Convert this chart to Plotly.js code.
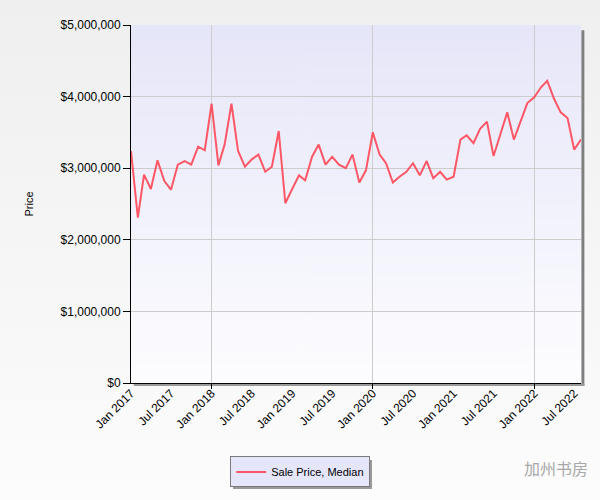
<!DOCTYPE html>
<html>
<head>
<meta charset="utf-8">
<script src="https://cdn.plot.ly/plotly-3.0.1.min.js"></script>
<style>
    html, body { margin: 0; padding: 0; }
    body { width: 600px; height: 500px; background: linear-gradient(#efefef, #fcfcfc); }
    #chartBox { width: 600px; height: 500px; }
</style>
</head>
<body>
<div id="chartBox"></div>
<script>
// 월별 중간 매매가 (2017-01 ~ 2022-08)
const startYear = 2017;
const median2017 = [3240000, 2310000, 2910000, 2710000, 3110000, 2820000, 2700000, 3050000, 3100000, 3050000, 3300000, 3250000];
const median2018 = [3900000, 3040000, 3330000, 3900000, 3240000, 3020000, 3120000, 3190000, 2950000, 3020000, 3520000, 2510000];
const median2019 = [2710000, 2900000, 2830000, 3160000, 3330000, 3050000, 3160000, 3050000, 3000000, 3190000, 2800000, 2970000];
const median2020 = [3500000, 3190000, 3070000, 2800000, 2880000, 2950000, 3070000, 2900000, 3100000, 2860000, 2950000, 2840000];
const median2021 = [2880000, 3400000, 3460000, 3350000, 3550000, 3650000, 3170000, 3470000, 3780000, 3400000, 3660000, 3910000];
const median2022 = [3990000, 4130000, 4220000, 3970000, 3780000, 3700000, 3260000, 3400000];

const tickDates = ['2017-01-01', '2017-07-01', '2018-01-01', '2018-07-01', '2019-01-01', '2019-07-01',
    '2020-01-01', '2020-07-01', '2021-01-01', '2021-07-01', '2022-01-01', '2022-07-01'];
const tickLabels = ['Jan 2017', 'Jul 2017', 'Jan 2018', 'Jul 2018', 'Jan 2019', 'Jul 2019',
    'Jan 2020', 'Jul 2020', 'Jan 2021', 'Jul 2021', 'Jan 2022', 'Jul 2022'];
const gridDates = ['2018-01-01', '2020-01-01', '2022-01-01'];
const priceTicks = [0, 1000000, 2000000, 3000000, 4000000, 5000000];

const yearly = [median2017, median2018, median2019, median2020, median2021, median2022];
const months = [];
const prices = [];
yearly.forEach((vals, i) => {
    vals.forEach((v, m) => {
        months.push((startYear + i) + '-' + String(m + 1).padStart(2, '0') + '-01');
        prices.push(v);
    });
});

// 플롯 영역 배경 그라데이션
function gradientImage() {
    const c = document.createElement('canvas');
    c.width = 4;
    c.height = 200;
    const ctx = c.getContext('2d');
    const g = ctx.createLinearGradient(0, 0, 0, 200);
    g.addColorStop(0, 'rgb(230,230,249)');
    g.addColorStop(1, 'rgb(253,253,255)');
    ctx.fillStyle = g;
    ctx.fillRect(0, 0, 4, 200);
    return c.toDataURL();
}

const font = 'Liberation Sans, Arial, sans-serif';
const xRange = [months[0], months[months.length - 1]];

var sale = {
    x: months,
    y: prices,
    type: 'scatter',
    mode: 'lines',
    line: { color: 'rgba(255,70,85,0.9)', width: 2 },
    name: 'Sale Price, Median',
};

// 라벨용 보조 축을 그리기 위한 빈 trace
var labelAxis = {
    x: xRange,
    y: [null, null],
    xaxis: 'x2',
    type: 'scatter',
    mode: 'lines',
    showlegend: false,
    hoverinfo: 'skip',
};

var layout = {
    width: 600,
    height: 500,
    margin: { l: 131, r: 19, t: 25, b: 117 },
    paper_bgcolor: 'rgba(0,0,0,0)',
    plot_bgcolor: 'rgba(0,0,0,0)',
    font: { family: font, color: '#000', size: 11 },
    showlegend: true,
    xaxis: {
        type: 'date',
        range: xRange,
        tickmode: 'array',
        tickvals: gridDates,
        showticklabels: false,
        ticks: 'outside',
        ticklen: 5,
        tickcolor: '#000',
        showgrid: true,
        gridcolor: '#cccccc',
        showline: true,
        linecolor: '#000',
        linewidth: 1,
        zeroline: false,
    },
    xaxis2: {
        type: 'date',
        overlaying: 'x',
        anchor: 'y',
        side: 'bottom',
        range: xRange,
        tickmode: 'array',
        tickvals: tickDates,
        ticktext: tickLabels,
        tickangle: -45,
        ticks: '',
        showgrid: false,
        showline: false,
        zeroline: false,
        tickfont: { family: font, size: 12, color: '#000' },
    },
    yaxis: {
        range: [0, 5000000],
        tickmode: 'array',
        tickvals: priceTicks,
        tickformat: '$,.0f',
        ticks: 'outside',
        ticklen: 7,
        tickcolor: '#000',
        showgrid: true,
        gridcolor: '#cccccc',
        showline: true,
        linecolor: '#000',
        linewidth: 1,
        zeroline: false,
        tickfont: { family: font, size: 12, color: '#000' },
        title: { text: 'Price', font: { family: font, size: 11 }, standoff: 24 },
    },
    legend: {
        orientation: 'h',
        x: 0.376,
        xanchor: 'center',
        y: -0.205,
        yanchor: 'top',
        bgcolor: '#e6e6fa',
        bordercolor: '#7a7a7a',
        borderwidth: 1,
        font: { family: font, size: 11, color: '#000' },
    },
    images: [{
        source: gradientImage(),
        xref: 'paper', yref: 'paper',
        x: 0, y: 1, sizex: 1, sizey: 1,
        xanchor: 'left', yanchor: 'top',
        sizing: 'stretch',
        layer: 'below',
    }],
    shapes: [
        // 플롯 영역 그림자
        { type: 'rect', xref: 'paper', yref: 'paper', x0: 1.001, x1: 1.0075, y0: -0.008, y1: 0.985,
          fillcolor: '#7f7f7f', line: { width: 0 }, layer: 'below' },
        { type: 'rect', xref: 'paper', yref: 'paper', x0: 0.006, x1: 1.0075, y0: -0.0085, y1: -0.002,
          fillcolor: '#9a9a9a', line: { width: 0 }, layer: 'below' },
        // 범례 그림자
        { type: 'rect', xref: 'paper', yref: 'paper', x0: 0.2267, x1: 0.5356, y0: -0.296, y1: -0.215,
          fillcolor: '#9a9a9a', line: { width: 0 }, layer: 'below' },
    ],
    annotations: [{
        text: '加州书房',
        xref: 'paper', yref: 'paper',
        x: 1.02, y: -0.238,
        xanchor: 'right', yanchor: 'middle',
        showarrow: false,
        font: { family: 'Noto Sans CJK SC', size: 16, color: '#a8a8a8' },
    }],
};

Plotly.newPlot('chartBox', [sale, labelAxis], layout, { displayModeBar: false });
</script>
</body>
</html>
